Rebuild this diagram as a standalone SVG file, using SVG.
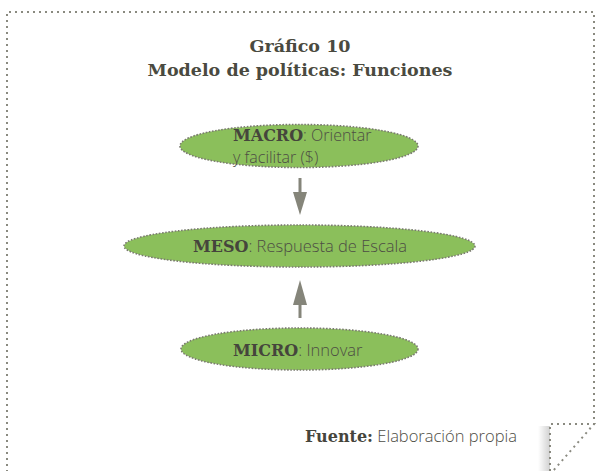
<svg xmlns="http://www.w3.org/2000/svg" width="597" height="471" viewBox="0 0 597 471">
<defs>
<style>
.frame{fill:none;stroke:#8a8a80;stroke-width:2;stroke-dasharray:2 4}
.node{fill:#8bbf5b;stroke:#7a7a70;stroke-width:1.6;stroke-dasharray:1.6 1.6}
.title{font-family:"DejaVu Serif","Liberation Serif",serif;font-weight:bold;font-size:17.5px;fill:#4a4a40;text-anchor:middle}
.t{font-family:"Open Sans","Liberation Sans",sans-serif;font-weight:300;font-size:16.5px;fill:#4d4d44}
.s{font-size:16px}
.b{font-family:"DejaVu Serif","Liberation Serif",serif;font-weight:bold;font-size:16px;fill:#45453c}
.arr{stroke:#85857a;stroke-width:3;fill:none}
.head{fill:#85857a}
</style>
<linearGradient id="sh" x1="1" y1="0" x2="0" y2="0">
<stop offset="0" stop-color="#000" stop-opacity="0.18"/>
<stop offset="1" stop-color="#000" stop-opacity="0"/>
</linearGradient>
</defs>
<rect width="597" height="471" fill="#fff"/>
<g id="frame">
<path class="frame" d="M550,471 V424 H594 V12 H7 V471"/>
<rect x="538" y="426" width="12" height="45" fill="url(#sh)"/>
<path class="frame" d="M550,471 V424 H594 L553,471"/>
</g>
<g id="title">
<text class="title" x="300" y="52">Gráfico 10</text>
<text class="title" x="300" y="76">Modelo de políticas: Funciones</text>
</g>
<g id="connectors">
<line class="arr" x1="300" y1="178" x2="300" y2="196"/>
<polygon class="head" points="293,192 307,192 300,215"/>
<line class="arr" x1="300" y1="318" x2="300" y2="300"/>
<polygon class="head" points="293,305 307,305 300,280"/>
</g>
<g id="macro">
<ellipse class="node" cx="299" cy="146" rx="119" ry="21.5"/>
<text class="t s" x="233" y="141"><tspan class="b">MACRO</tspan>: Orientar</text>
<text class="t s" x="233" y="163">y facilitar ($)</text>
</g>
<g id="meso">
<ellipse class="node" cx="299.5" cy="246" rx="175.5" ry="21"/>
<text class="t" x="193" y="252"><tspan class="b">MESO</tspan>: Respuesta de Escala</text>
</g>
<g id="micro">
<ellipse class="node" cx="299.5" cy="349" rx="118.5" ry="21"/>
<text class="t" x="233" y="356"><tspan class="b">MICRO</tspan>: Innovar</text>
</g>
<g id="source">
<text class="t" x="305" y="442"><tspan class="b">Fuente:</tspan> Elaboración propia</text>
</g>
</svg>
